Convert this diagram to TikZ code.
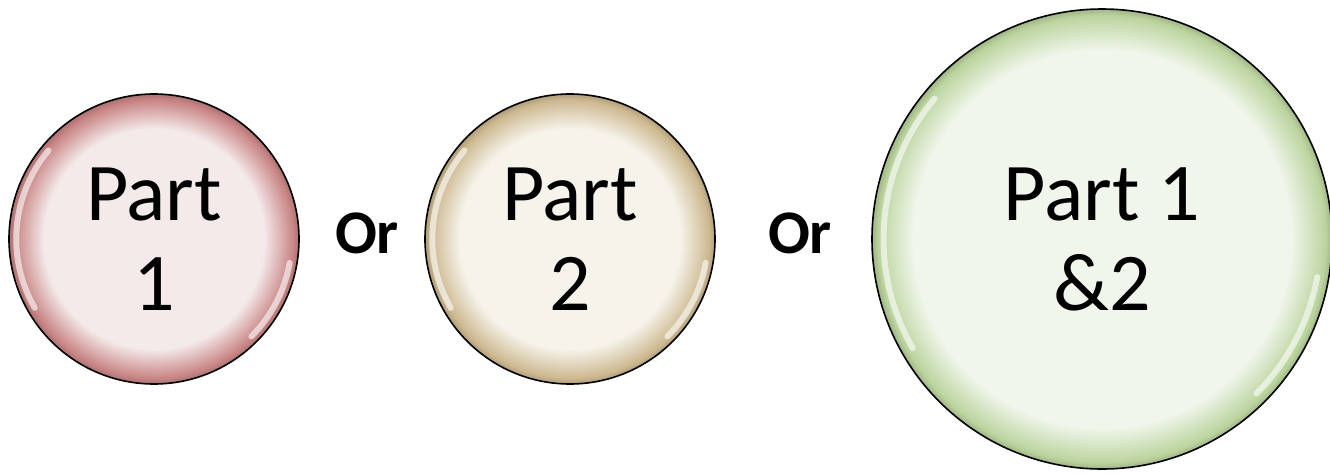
\documentclass[tikz,border=0pt]{standalone}
\usepackage{fontspec}
\setmainfont{Carlito}
\usepackage{xcolor}
\usepackage{tikz}
\usetikzlibrary{positioning}
\definecolor{redin}{HTML}{F4EAEA}
\definecolor{redout}{HTML}{C98585}
\definecolor{tanin}{HTML}{F6F3EB}
\definecolor{tanout}{HTML}{CDB990}
\definecolor{grnin}{HTML}{F1F6EC}
\definecolor{grnout}{HTML}{BBD49E}
\pgfdeclareradialshading{ballred}{\pgfpoint{0bp}{0bp}}{color(0bp)=(redin); color(19bp)=(redin); color(24bp)=(redout); color(25bp)=(redout!85!black); color(50bp)=(redout!85!black)}
\pgfdeclareradialshading{balltan}{\pgfpoint{0bp}{0bp}}{color(0bp)=(tanin); color(19bp)=(tanin); color(24bp)=(tanout); color(25bp)=(tanout!85!black); color(50bp)=(tanout!85!black)}
\pgfdeclareradialshading{ballgrn}{\pgfpoint{0bp}{0bp}}{color(0bp)=(grnin); color(20.5bp)=(grnin); color(24.3bp)=(grnout); color(25bp)=(grnout!85!black); color(50bp)=(grnout!85!black)}
\tikzset{ball/.style = {circle, draw=black, thick, inner sep=0, align=center,
                        font=\fontsize{41}{45}\selectfont}}
\tikzset{gloss/.style = {draw=white, line width=3pt, line cap=round, opacity=0.6}}
\tikzset{ortext/.style = {draw=none, font=\fontsize{31}{31}\selectfont\bfseries}}

\begin{document}
\begin{tikzpicture}[x=0.5pt, y=0.5pt]
\useasboundingbox (0, 0) rectangle (1330, 473);
\node [ball, shading=ballred, minimum size=145pt] (p1) at (154, 234) {Part\\1};
\node [ball, shading=balltan, minimum size=145pt] (p2) at (570, 234) {Part\\2};
\node [ball, shading=ballgrn, minimum size=230pt] (p12) at (1102, 234) {Part 1\\\&2};
\node [ortext] (or1) at (367, 240) {Or};
\node [ortext] (or2) at (800, 240) {Or};
% glossy highlights
\foreach \n/\r in {p1/145, p2/145, p12/230} {
  \draw [gloss] ([shift={(140:0.95*\r)}]\n.center) arc [start angle=140, end angle=210, radius=0.95*\r];
  \draw [gloss] ([shift={(-10:0.95*\r)}]\n.center) arc [start angle=-10, end angle=-45, radius=0.95*\r];
}
\end{tikzpicture}
\end{document}
